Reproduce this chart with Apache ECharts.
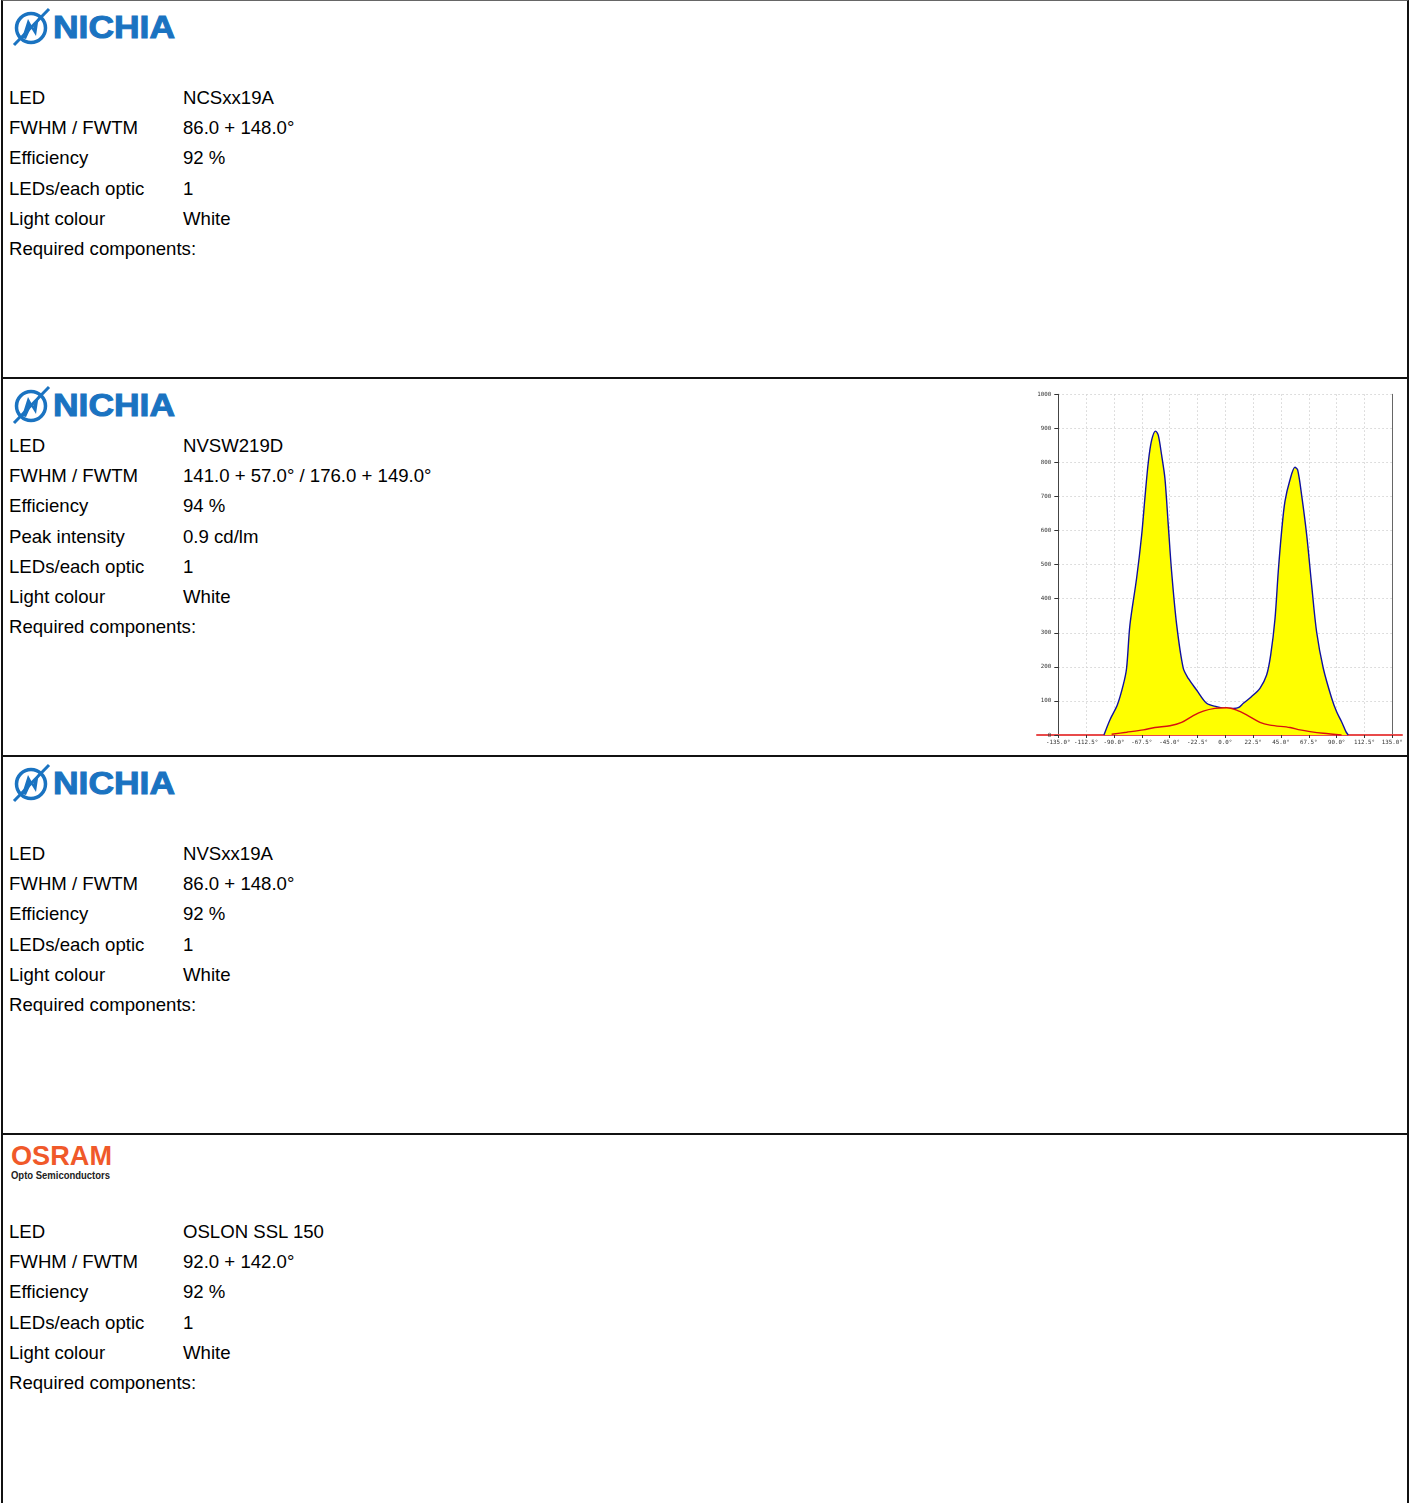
<!DOCTYPE html>
<html>
<head>
<meta charset="utf-8">
<script src="https://cdn.jsdelivr.net/npm/echarts@6/dist/echarts.min.js"></script>
<style>
  html, body { margin: 0; padding: 0; background: #fff; }
  body { width: 1412px; height: 1503px; position: relative; overflow: hidden;
         font-family: "Liberation Sans", Arial, sans-serif; color: #000; }
  .panel { position: absolute; left: 1px; width: 1408px; height: 378px; box-sizing: border-box;
           border-left: 2px solid #111; border-right: 2px solid #111; border-top: 2px solid #111; }
  .rows { position: absolute; left: 6px; font-size: 18.6px; line-height: 30.2px; }
  .row { position: relative; height: 30.2px; white-space: nowrap; }
  .row .v { position: absolute; left: 174px; top: 0; }
  .logo { position: absolute; left: -2px; top: 0; }
  #chart { position: absolute; left: 1030px; top: 385px; width: 378px; height: 372px; }
</style>
</head>
<body>
<div class="panel" style="top:0; border-top:1px solid #666;">
  <svg class="logo" width="190" height="50" viewBox="0 0 190 50">
    <circle cx="30" cy="27" r="14.5" fill="none" stroke="#1a73c1" stroke-width="3.5"/>
    <line x1="13" y1="44" x2="48" y2="8" stroke="#1a73c1" stroke-width="3"/>
    <polygon points="21,37 27,18 32,27 38,15 35,35 30,27 25,38" fill="#1a73c1"/>
    <text x="52" y="37" font-family="Liberation Sans, Arial" font-weight="bold" font-size="31" textLength="122" lengthAdjust="spacingAndGlyphs" fill="#1a73c1" stroke="#1a73c1" stroke-width="1">NICHIA</text>
  </svg>
  <div class="rows" id="rows1" style="top:82px;"></div>
</div>
<div class="panel" style="top:377px;">
  <svg class="logo" width="190" height="50" viewBox="0 0 190 50">
    <circle cx="30" cy="27" r="14.5" fill="none" stroke="#1a73c1" stroke-width="3.5"/>
    <line x1="13" y1="44" x2="48" y2="8" stroke="#1a73c1" stroke-width="3"/>
    <polygon points="21,37 27,18 32,27 38,15 35,35 30,27 25,38" fill="#1a73c1"/>
    <text x="52" y="37" font-family="Liberation Sans, Arial" font-weight="bold" font-size="31" textLength="122" lengthAdjust="spacingAndGlyphs" fill="#1a73c1" stroke="#1a73c1" stroke-width="1">NICHIA</text>
  </svg>
  <div class="rows" id="rows2" style="top:52px;"></div>
</div>
<div class="panel" style="top:755px;">
  <svg class="logo" width="190" height="50" viewBox="0 0 190 50">
    <circle cx="30" cy="27" r="14.5" fill="none" stroke="#1a73c1" stroke-width="3.5"/>
    <line x1="13" y1="44" x2="48" y2="8" stroke="#1a73c1" stroke-width="3"/>
    <polygon points="21,37 27,18 32,27 38,15 35,35 30,27 25,38" fill="#1a73c1"/>
    <text x="52" y="37" font-family="Liberation Sans, Arial" font-weight="bold" font-size="31" textLength="122" lengthAdjust="spacingAndGlyphs" fill="#1a73c1" stroke="#1a73c1" stroke-width="1">NICHIA</text>
  </svg>
  <div class="rows" id="rows3" style="top:82px;"></div>
</div>
<div class="panel" style="top:1133px; height:372px;">
  <svg class="logo" width="190" height="50" viewBox="0 0 190 50">
    <text x="10" y="30" font-family="Liberation Sans, Arial" font-weight="bold" font-size="28" textLength="101" lengthAdjust="spacingAndGlyphs" fill="#f0592a">OSRAM</text>
    <text x="10" y="44" font-family="Liberation Sans, Arial" font-weight="bold" font-size="10" textLength="99" lengthAdjust="spacingAndGlyphs" fill="#222">Opto Semiconductors</text>
  </svg>
  <div class="rows" id="rows4" style="top:82px;"></div>
</div>
<div id="chart"></div>
<script>
// ---- panel texts ----
const panel1Labels = ["LED", "FWHM / FWTM", "Efficiency", "LEDs/each optic", "Light colour", "Required components:"];
const panel1Values = ["NCSxx19A", "86.0 + 148.0°", "92 %", "1", "White", ""];
const panel2Labels = ["LED", "FWHM / FWTM", "Efficiency", "Peak intensity", "LEDs/each optic", "Light colour", "Required components:"];
const panel2Values = ["NVSW219D", "141.0 + 57.0° / 176.0 + 149.0°", "94 %", "0.9 cd/lm", "1", "White", ""];
const panel3Labels = ["LED", "FWHM / FWTM", "Efficiency", "LEDs/each optic", "Light colour", "Required components:"];
const panel3Values = ["NVSxx19A", "86.0 + 148.0°", "92 %", "1", "White", ""];
const panel4Labels = ["LED", "FWHM / FWTM", "Efficiency", "LEDs/each optic", "Light colour", "Required components:"];
const panel4Values = ["OSLON SSL 150", "92.0 + 142.0°", "92 %", "1", "White", ""];

// ---- chart data (intensity vs angle) ----
const xTickValues = [-135, -112.5, -90, -67.5, -45, -22.5, 0, 22.5, 45, 67.5, 90, 112.5, 135];
const yTickValues = [0, 100, 200, 300, 400, 500, 600, 700, 800, 900, 1000];
const blueAngles = [-98.1, -93.2, -87.3, -82.5, -79.8, -77.1, -71.7, -67.6, -65.0, -62.2, -59.5, -56.3, -54.2, -51.5, -48.8, -46.1, -43.4, -39.3, -34.0, -29.9, -23.2, -15.1, -7.0, -0.3, 6.5, 10.5, 14.6, 21.3, 28.0, 33.4, 36.7, 40.2, 42.8, 45.5, 48.2, 52.3, 56.3, 58.5, 61.7, 65.8, 69.8, 73.8, 79.2, 86.0, 90.0, 94.0, 97.5, 99.4];
const blueValues = [0, 45, 88, 147, 196, 323, 460, 587, 695, 802, 866, 892, 880, 822, 753, 616, 479, 323, 196, 166, 132, 93, 83, 78, 78, 80, 93, 113, 137, 176, 235, 342, 479, 597, 685, 749, 786, 778, 704, 587, 440, 303, 196, 108, 68, 39, 10, 0];
const redAngles = [-91.9, -79.8, -66.3, -56.9, -44.7, -35.3, -25.9, -17.8, -8.4, 1.1, 9.2, 17.2, 28.0, 36.1, 52.3, 60.4, 68.5, 79.2, 94.0];
const redValues = [2, 8, 15, 22, 27, 37, 57, 70, 78, 80, 73, 59, 37, 29, 22, 15, 10, 5, 0];

function fillRows(id, labels, values) {
  const el = document.getElementById(id);
  labels.forEach((l, i) => {
    const r = document.createElement('div');
    r.className = 'row';
    const a = document.createElement('span'); a.textContent = l;
    const b = document.createElement('span'); b.className = 'v'; b.textContent = values[i];
    r.appendChild(a); r.appendChild(b); el.appendChild(r);
  });
}
fillRows('rows1', panel1Labels, panel1Values);
fillRows('rows2', panel2Labels, panel2Values);
fillRows('rows3', panel3Labels, panel3Values);
fillRows('rows4', panel4Labels, panel4Values);

const zip = (xs, ys) => xs.map((x, i) => [x, ys[i]]);
const chart = echarts.init(document.getElementById('chart'), null, { renderer: 'canvas' });
const tickFont = { fontSize: 5.8, fontFamily: 'DejaVu Sans Mono', color: '#333' };
chart.setOption({
  animation: false,
  grid: [
    { left: 28.3, right: 15.7, top: 9.3, bottom: 22, containLabel: false },
    { left: 7, right: 6, top: 349, height: 1 }
  ],
  xAxis: [
    { type: 'value', gridIndex: 0, min: xTickValues[0], max: xTickValues[xTickValues.length - 1], interval: 22.5,
      axisLine: { show: false, onZero: false },
      axisTick: { show: true, inside: false, length: 3, lineStyle: { color: '#333' } },
      axisLabel: Object.assign({ margin: 4, formatter: v => v.toFixed(1) + '°' }, tickFont),
      splitLine: { show: true, lineStyle: { color: '#d4d4d4', type: [1.5, 2.5], width: 1 } } },
    { type: 'value', gridIndex: 1, min: 0, max: 1, position: 'bottom',
      axisLine: { show: true, onZero: false, lineStyle: { color: '#e84a4a', width: 2 } },
      axisTick: { show: false }, axisLabel: { show: false }, splitLine: { show: false } }
  ],
  yAxis: [
    { type: 'value', gridIndex: 0, min: yTickValues[0], max: yTickValues[yTickValues.length - 1], interval: 100,
      position: 'left',
      axisLine: { show: true, onZero: false, lineStyle: { color: '#444', width: 1 } },
      axisTick: { show: true, inside: false, length: 4, lineStyle: { color: '#333' } },
      axisLabel: Object.assign({ margin: 7, formatter: v => String(v) }, tickFont),
      splitLine: { show: true, lineStyle: { color: '#d4d4d4', type: [1.5, 2.5], width: 1 } } },
    { type: 'value', gridIndex: 0, min: 0, max: 1000, position: 'right',
      axisLine: { show: true, onZero: false, lineStyle: { color: '#666', width: 1 } },
      axisTick: { show: false }, axisLabel: { show: false }, splitLine: { show: false } },
    { type: 'value', gridIndex: 1, show: false }
  ],
  series: [
    { type: 'line', xAxisIndex: 0, yAxisIndex: 0, data: zip(blueAngles, blueValues), smooth: 0.3,
      showSymbol: false, symbol: 'none', lineStyle: { color: '#1010a0', width: 1.4 },
      areaStyle: { color: '#ffff00', opacity: 1 }, z: 3 },
    { type: 'line', xAxisIndex: 0, yAxisIndex: 0, data: zip(redAngles, redValues), smooth: 0.3,
      showSymbol: false, symbol: 'none', lineStyle: { color: '#d81010', width: 1.4 },
      areaStyle: { color: '#ffff00', opacity: 1 }, z: 4 }
  ]
});
</script>
</body>
</html>
